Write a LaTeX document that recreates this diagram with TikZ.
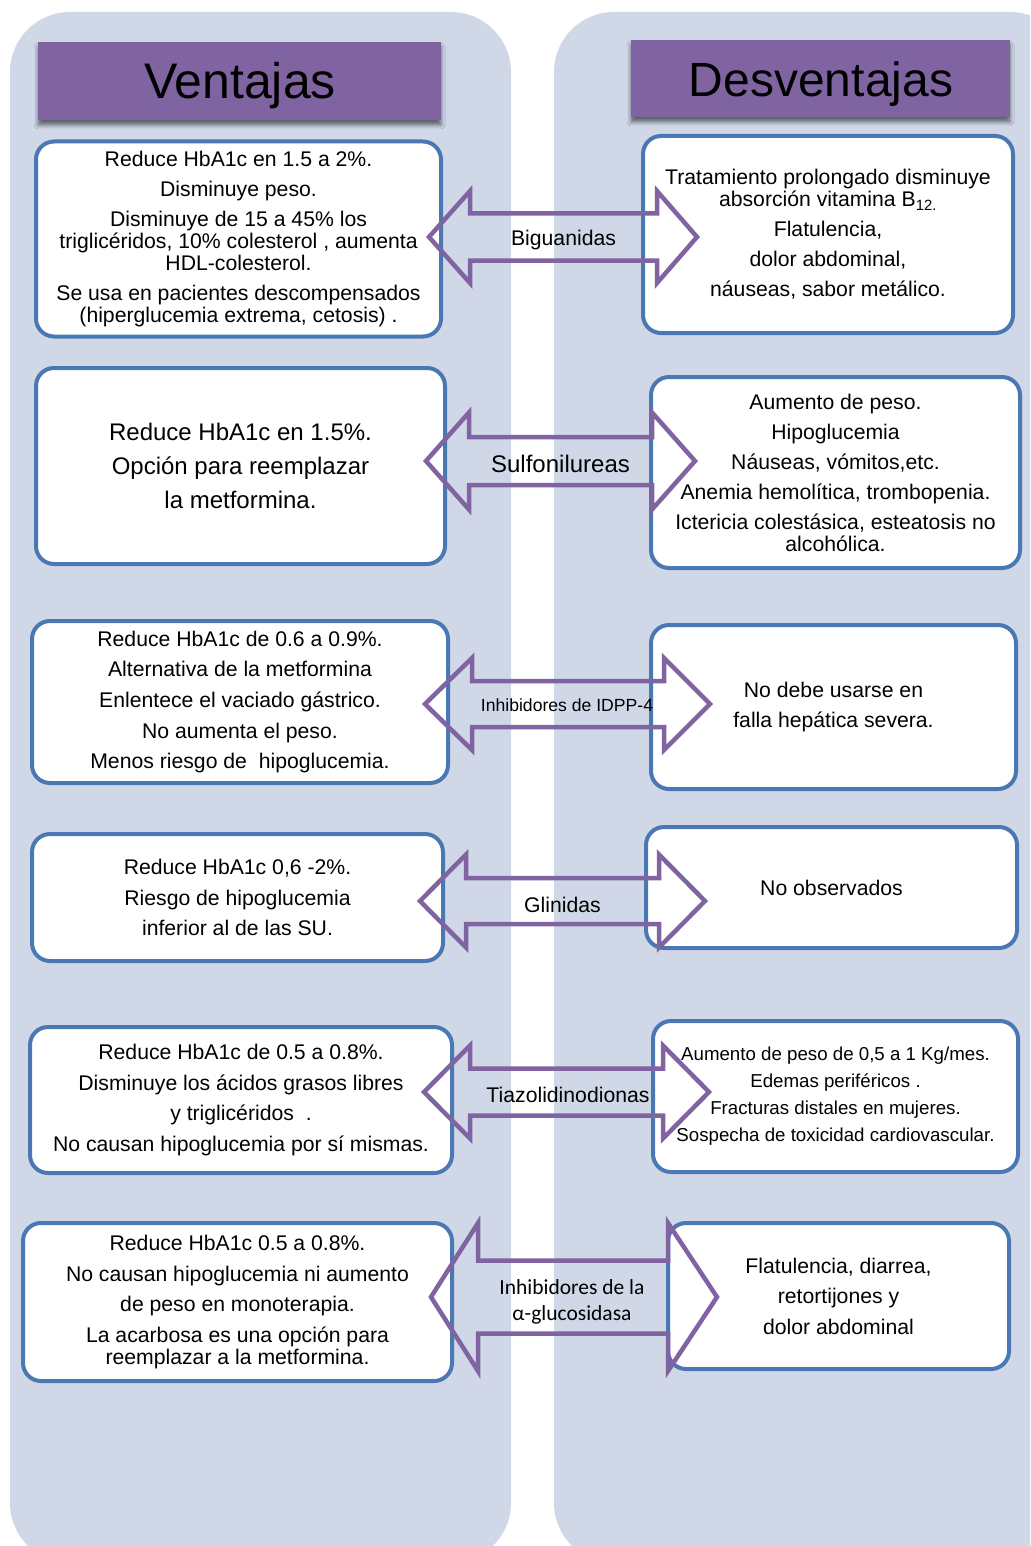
\documentclass[tikz,border=0pt]{standalone}
\usepackage{fontspec}
\setmainfont{Liberation Sans}
\newfontfamily\calib{Carlito}
\usetikzlibrary{shadows.blur}
\definecolor{panelc}{HTML}{D0D8E8}
\definecolor{boxc}{HTML}{4A78B2}
\definecolor{purp}{HTML}{8064A2}
\tikzset{
  panel/.style={fill=panelc, draw=none, rounded corners=60pt},
  header/.style={fill=purp, draw=none, inner sep=0pt,
    blur shadow={shadow xshift=0pt, shadow yshift=-5pt, shadow blur radius=4pt, shadow opacity=55}},
  headtxt/.style={anchor=base, inner sep=0pt},
  infobox/.style={draw=boxc, fill=white, line width=4pt, rounded corners=18pt, align=center, inner sep=0pt},
  txt/.style={font=\fontsize{21.2}{22}\selectfont},
  bigtxt/.style={font=\fontsize{24}{34}\selectfont},
  smalltxt/.style={font=\fontsize{18.7}{27}\selectfont},
  blockarrow/.style={draw=purp, line width=4.5pt, line join=miter},
  arrlabel/.style={inner sep=0pt, align=center, font=\fontsize{21.2}{24}\selectfont},
}
% #1 tip left, #2 head base left, #3 head base right, #4 tip right, #5 centre y, #6 head half height, #7 shaft half height
\newcommand\blockarr[7]{%
  \draw[blockarrow] (#1,#5) -- (#2,#5-#6) -- (#2,#5-#7) -- (#3,#5-#7) -- (#3,#5-#6) -- (#4,#5)
    -- (#3,#5+#6) -- (#3,#5+#7) -- (#2,#5+#7) -- (#2,#5+#6) -- cycle;}
\begin{document}
\begin{tikzpicture}[x=1pt, y=-1pt]
\useasboundingbox (0,0) rectangle (1030,1546);
\clip (0,0) rectangle (1030,1546);
\fill[white] (0,0) rectangle (1030,1546);
% panels
\path[panel] (10,12) rectangle (511,1563);
\path[panel] (554,12) rectangle (1070,1563);
% headers
\node[header, minimum width=403pt, minimum height=78pt] (hv) at (239.5,81) {};
\node[headtxt, font=\fontsize{50}{50}\selectfont] (hvt) at (240,99) {Ventajas};
\node[header, minimum width=379pt, minimum height=77pt] (hd) at (820.5,78.5) {};
\node[headtxt, font=\fontsize{48}{48}\selectfont] (hdt) at (821,97) {Desventajas};

% row 1
\node[infobox, txt, minimum width=405pt, minimum height=195pt] (v1) at (238.5,239)
 {Reduce HbA1c en 1.5 a 2\%.\\[8pt] Disminuye peso.\\[8pt] Disminuye de 15 a 45\% los\\ triglicéridos, 10\% colesterol , aumenta\\ HDL-colesterol.\\[8pt] Se usa en pacientes descompensados\\ (hiperglucemia extrema, cetosis) .};
\node[infobox, txt, minimum width=370pt, minimum height=197pt] (d1) at (828,234.5)
 {Tratamiento prolongado disminuye\\ absorción vitamina B\textsubscript{12.}\\[8pt] Flatulencia,\\[8pt] dolor abdominal,\\[8pt] náuseas, sabor metálico.};
% row 2
\node[infobox, bigtxt, minimum width=409pt, minimum height=196pt] (v2) at (240.5,466)
 {Reduce HbA1c en 1.5\%.\\ Opción para reemplazar\\ la metformina.};
\node[infobox, txt, minimum width=369pt, minimum height=191pt] (d2) at (835.5,472.5)
 {Aumento de peso.\\[8pt] Hipoglucemia\\[8pt] Náuseas, vómitos,etc.\\[8pt] Anemia hemolítica, trombopenia.\\[8pt] Ictericia colestásica, esteatosis no\\ alcohólica.};
% row 3
\node[infobox, txt, minimum width=416pt, minimum height=162pt] (v3) at (240,702)
 {Reduce HbA1c de 0.6 a 0.9\%.\\[8.7pt] Alternativa de la metformina\\[8.7pt] Enlentece el vaciado gástrico.\\[8.7pt] No aumenta el peso.\\[8.7pt] Menos riesgo de \ hipoglucemia.};
\node[infobox, txt, minimum width=365pt, minimum height=164pt] (d3) at (833.5,707)
 {No debe usarse en\\[8pt] falla hepática severa.};
% row 4
\node[infobox, txt, minimum width=411pt, minimum height=127pt] (v4) at (237.5,897.5)
 {Reduce HbA1c 0,6 -2\%.\\[8.5pt] Riesgo de hipoglucemia\\[8.5pt] inferior al de las SU.};
\node[infobox, txt, minimum width=371pt, minimum height=121pt] (d4) at (831.5,887.5)
 {No observados};
% row 5
\node[infobox, txt, minimum width=422pt, minimum height=146pt] (v5) at (241,1100)
 {Reduce HbA1c de 0.5 a 0.8\%.\\[8.7pt] Disminuye los ácidos grasos libres\\[8.7pt] y triglicéridos \ .\\[8.7pt] No causan hipoglucemia por sí mismas.};
\node[infobox, smalltxt, minimum width=365pt, minimum height=151pt] (d5) at (835.5,1096.5)
 {Aumento de peso de 0,5 a 1 Kg/mes.\\ Edemas periféricos .\\ Fracturas distales en mujeres.\\ Sospecha de toxicidad cardiovascular.};
% row 6
\node[infobox, txt, minimum width=429pt, minimum height=158pt] (v6) at (237.5,1302)
 {Reduce HbA1c 0.5 a 0.8\%.\\[8.5pt] No causan hipoglucemia ni aumento\\[8.5pt] de peso en monoterapia.\\[8.5pt] La acarbosa es una opción para\\ reemplazar a la metformina.};
\node[infobox, txt, minimum width=341pt, minimum height=146pt] (d6) at (838.5,1296)
 {Flatulencia, diarrea,\\[8.5pt] retortijones y\\[8.5pt] dolor abdominal};

% block arrows
\blockarr{429}{470}{657}{697}{237}{46}{23.5}
\node[arrlabel] (a1) at (563.5,240) {Biguanidas};
\blockarr{426}{469}{652}{695}{461}{48.5}{24}
\node[arrlabel, font=\fontsize{24}{26}\selectfont] (a2) at (560.5,464) {Sulfonilureas};
\blockarr{425}{472}{664}{710}{704}{46}{23}
\node[arrlabel, font=\fontsize{17.6}{20}\selectfont] (a3) at (567,705) {Inhibidores de IDPP-4};
\blockarr{420}{466}{659}{705}{901}{46.5}{23}
\node[arrlabel] (a4) at (562.5,905) {Glinidas};
\blockarr{424}{470}{663}{709}{1092}{46.5}{23.5}
\node[arrlabel] (a5) at (568,1095) {Tiazolidinodionas};
\blockarr{431}{478}{668}{717}{1297}{74}{36.5}
\node[arrlabel, font=\calib\fontsize{21.5}{26}\selectfont] (a6) at (572,1302) {Inhibidores de la\\ α-glucosidasa};
\end{tikzpicture}
\end{document}
